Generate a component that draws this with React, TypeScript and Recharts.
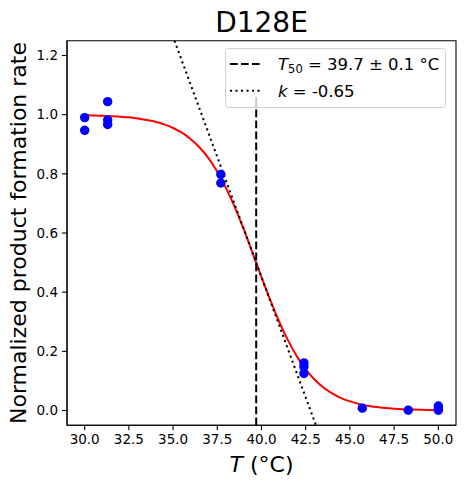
import {
  ComposedChart,
  Customized,
  Label,
  Line,
  ReferenceArea,
  ReferenceLine,
  Scatter,
  XAxis,
  YAxis,
  ZAxis,
} from 'recharts'

const FONT = '"DejaVu Sans", sans-serif'

// measured samples
const sampleT = [30, 30, 31.3, 31.3, 31.3, 37.7, 37.7, 42.4, 42.4, 42.4, 45.7, 48.3, 50, 50, 50]
const sampleRate = [0.99, 0.947, 1.044, 0.982, 0.967, 0.798, 0.769, 0.161, 0.148, 0.125, 0.008, 0.001, 0.015, 0.001, 0.005]

// fitted curve
const fitT = [
  30, 30.5, 31, 31.5, 32, 32.5, 33, 33.5, 34, 34.5, 35, 35.5, 36, 36.5, 37, 37.5, 38, 38.5, 39, 39.5,
  40, 40.5, 41, 41.5, 42, 42.5, 43, 43.5, 44, 44.5, 45, 45.5, 46, 46.5, 47, 47.5, 48, 48.5, 49, 49.5, 50,
]
const fitRate = [
  0.998, 0.9975, 0.9965, 0.995, 0.993, 0.991, 0.987, 0.982, 0.976, 0.967, 0.955, 0.939, 0.917, 0.889,
  0.853, 0.807, 0.751, 0.686, 0.612, 0.532, 0.451, 0.373, 0.3, 0.237, 0.183, 0.139, 0.105, 0.078, 0.058,
  0.042, 0.031, 0.0225, 0.0164, 0.0119, 0.0086, 0.0062, 0.0045, 0.0033, 0.0024, 0.0017, 0.0012,
]

// tangent at T50
const tangentT = [35.08, 43.08]
const tangentRate = [1.25, -0.05]

// T50 marker: runs from the bottom up to ~1.06 (top part sits behind the legend)
const T50 = 39.7
const t50Low = -0.05
const t50LegendEdge = 1.025
const t50High = 1.06

const xTicks = [30, 32.5, 35, 37.5, 40, 42.5, 45, 47.5, 50]
const yTicks = [0, 0.2, 0.4, 0.6, 0.8, 1.0, 1.2]

const samples = sampleT.map((x, i) => ({ x, y: sampleRate[i] }))
const fit = fitT.map((x, i) => ({ x, y: fitRate[i] }))
const tangent = tangentT.map((x, i) => ({ x, y: tangentRate[i] }))

function LegendBox() {
  return (
    <g transform="translate(225 48)">
      <rect x={0.5} y={0.5} width={220} height={59} rx={3} fill="#fff" fillOpacity={0.8} stroke="#d0d0d0" />
      <line x1={5} x2={38} y1={16} y2={16} stroke="#000" strokeWidth={2} strokeDasharray="7.7 3.3" />
      <line x1={5} x2={38} y1={42.7} y2={42.7} stroke="#000" strokeWidth={2} strokeDasharray="2.1 3.4" />
      <text x={53} y={21.5} fontFamily={FONT} fontSize={16.5} fill="#000">
        <tspan fontStyle="italic">T</tspan>
        <tspan fontSize={11.5} dy={3}>50</tspan>
        <tspan dy={-3}> = 39.7 ± 0.1 °C</tspan>
      </text>
      <text x={53} y={49} fontFamily={FONT} fontSize={16.5} fill="#000">
        <tspan fontStyle="italic">k</tspan>
        <tspan> = -0.65</tspan>
      </text>
    </g>
  )
}

const tickStyle = { fontSize: 13.5, fill: '#000', fontFamily: FONT }

export default function App() {
  return (
    <div style={{ position: 'absolute', left: 0, top: 0, background: '#fff' }}>
      <ComposedChart width={464} height={487} margin={{ top: 40.7, right: 8, bottom: 0, left: 0 }}>
        <XAxis
          type="number"
          dataKey="x"
          domain={[29, 51]}
          ticks={xTicks}
          tickFormatter={(v) => v.toFixed(1)}
          height={61.7}
          tick={tickStyle}
          tickSize={5}
          tickMargin={4}
          axisLine={{ stroke: '#000', strokeWidth: 1.1 }}
          tickLine={{ stroke: '#000', strokeWidth: 1.1 }}
          allowDataOverflow
        >
          <Label
            content={() => (
              <g>
                <text x={261.5} y={472} textAnchor="middle" fontFamily={FONT} fontSize={22} fill="#000">
                  <tspan fontStyle="italic">T</tspan>
                  <tspan> (°C)</tspan>
                </text>
                <text x={261.5} y={32} textAnchor="middle" fontFamily={FONT} fontSize={28} fill="#000">
                  D128E
                </text>
              </g>
            )}
          />
        </XAxis>
        <YAxis
          type="number"
          dataKey="y"
          domain={[-0.05, 1.25]}
          ticks={yTicks}
          tickFormatter={(v) => v.toFixed(1)}
          width={67}
          tick={tickStyle}
          tickSize={5}
          tickMargin={4}
          axisLine={{ stroke: '#000', strokeWidth: 1.1 }}
          tickLine={{ stroke: '#000', strokeWidth: 1.1 }}
          allowDataOverflow
        >
          <Label
            content={() => (
              <text
                x={26}
                y={233}
                transform="rotate(-90 26 233)"
                textAnchor="middle"
                fontFamily={FONT}
                fontSize={22}
                fill="#000"
              >
                Normalized product formation rate
              </text>
            )}
          />
        </YAxis>
        <ZAxis range={[70, 70]} />
        <ReferenceArea x1={29} x2={51} y1={-0.05} y2={1.25} fill="none" stroke="#000" strokeWidth={1.1} ifOverflow="visible" />
        <Scatter data={samples} fill="#0000ff" isAnimationActive={false} />
        <Line
          data={fit}
          dataKey="y"
          type="monotone"
          stroke="#ff0000"
          strokeWidth={2}
          dot={false}
          isAnimationActive={false}
        />
        <ReferenceLine
          segment={[{ x: T50, y: t50Low }, { x: T50, y: t50LegendEdge }]}
          stroke="#000"
          strokeWidth={2}
          strokeDasharray="7.7 3.3"
        />
        <ReferenceLine
          segment={[{ x: T50, y: t50LegendEdge }, { x: T50, y: t50High }]}
          stroke="#c8c8c8"
          strokeWidth={2}
        />
        <Line
          data={tangent}
          dataKey="y"
          type="linear"
          stroke="#000"
          strokeWidth={2}
          strokeDasharray="2.1 3.4"
          dot={false}
          isAnimationActive={false}
        />
        <Customized component={LegendBox} />
      </ComposedChart>
    </div>
  )
}
